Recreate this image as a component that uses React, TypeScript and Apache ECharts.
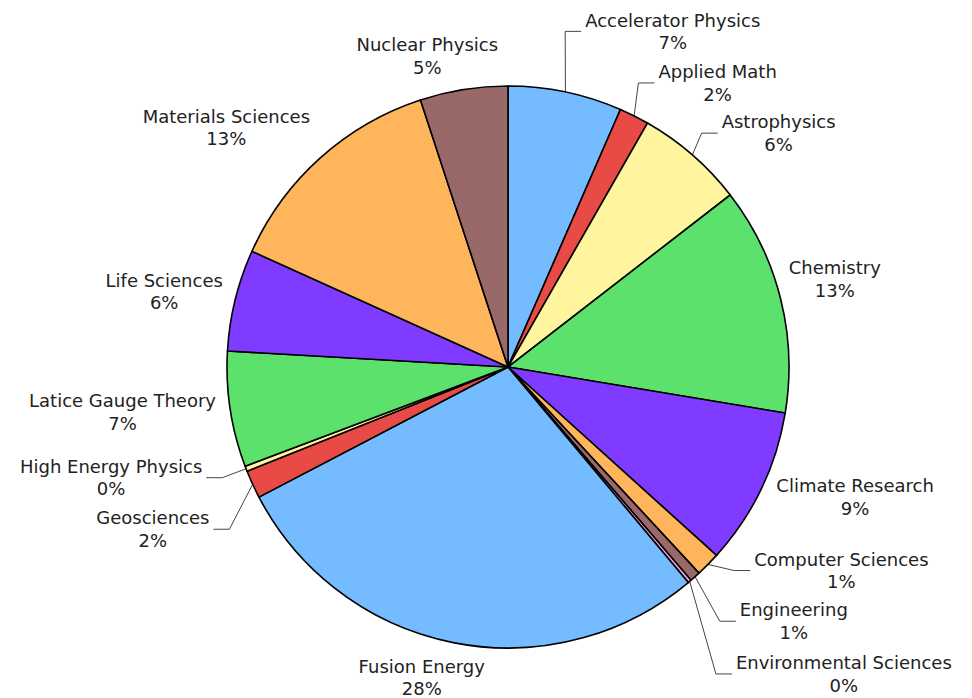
import React, { useEffect, useRef } from "react";
import * as echarts from "echarts";

// Allocation by science domain (share of total usage)
const categories = [
  "Accelerator Physics",
  "Applied Math",
  "Astrophysics",
  "Chemistry",
  "Climate Research",
  "Computer Sciences",
  "Engineering",
  "Environmental Sciences",
  "Fusion Energy",
  "Geosciences",
  "High Energy Physics",
  "Latice Gauge Theory",
  "Life Sciences",
  "Materials Sciences",
  "Nuclear Physics",
];
const shares = [6.5, 1.7, 6.2, 13.0, 9.0, 1.4, 0.6, 0.2, 28.2, 1.6, 0.3, 6.6, 5.8, 13.1, 5.0];

// Slice colours cycle through eight entries
const palette = ["#75BBFF", "#E84A45", "#FFF59F", "#5CE26C", "#7F3BFF", "#FFB55B", "#996969", "#F2A3D9"];

// Labels that are pushed away from their slice and get a leader line
const leaderLabels = new Set([
  "Accelerator Physics",
  "Applied Math",
  "Astrophysics",
  "Computer Sciences",
  "Engineering",
  "Environmental Sciences",
  "Geosciences",
  "High Energy Physics",
]);

// Extra label displacement (px) on top of the default outside placement
const labelShift: Record<string, [number, number]> = {
  "Accelerator Physics": [8.5, -39],
  "Applied Math": [13, -15],
  Astrophysics: [18, -9],
  Chemistry: [-3, -18],
  "Climate Research": [4, 3.5],
  "Computer Sciences": [35, -5],
  Engineering: [33.5, 32],
  "Environmental Sciences": [35, 79.5],
  "Fusion Energy": [43, 13.5],
  Geosciences: [-32, 41],
  "High Energy Physics": [-32.5, 6],
  "Latice Gauge Theory": [-3, 2],
  "Life Sciences": [-1, -7],
  "Materials Sciences": [1, -18],
  "Nuclear Physics": [45.6, -11.6],
};

const CENTER: [number, number] = [508, 367];
const RADIUS = 281;

export default function App() {
  const ref = useRef<HTMLDivElement>(null);

  useEffect(() => {
    if (!ref.current) return;
    const chart = echarts.init(ref.current, undefined, { renderer: "svg" });

    const total = shares.reduce((a, b) => a + b, 0);
    const midAngles: number[] = [];
    let acc = 0;
    shares.forEach((v) => {
      midAngles.push(((acc + v / 2) / total) * Math.PI * 2);
      acc += v;
    });

    const labelLayout = (p: any) => {
      const i = p.dataIndex;
      const a = midAngles[i];
      const s = Math.sin(a);
      const c = Math.cos(a);
      const ex = CENTER[0] + RADIUS * s;
      const ey = CENTER[1] - RADIUS * c;
      const w = p.labelRect.width;
      const h = p.labelRect.height;
      const sx = s;
      const sy = -c;
      let x = ex + Math.sign(sx) * (w / 2 + h / 4);
      let y = ey + (Math.sign(sy) * (h / 2)) / (1 + (sx * sx) / (sy * sy));
      const shift = labelShift[categories[i]] || [0, 0];
      x += shift[0];
      y += shift[1];
      const out: any = { x, y, align: "center", verticalAlign: "middle" };
      if (leaderLabels.has(categories[i])) {
        const side = sx >= 0 ? 1 : -1;
        const edgeX = x - (side * w) / 2;
        out.labelLinePoints = [
          [ex, ey],
          [edgeX - side * 20, y],
          [edgeX - side * 4, y],
        ];
      }
      return out;
    };

    chart.setOption({
      animation: false,
      backgroundColor: "#ffffff",
      series: [
        {
          type: "pie",
          center: CENTER,
          radius: RADIUS,
          startAngle: 90,
          clockwise: true,
          avoidLabelOverlap: false,
          emphasis: { disabled: true },
          itemStyle: { borderColor: "#000000", borderWidth: 1.6 },
          label: {
            show: true,
            position: "outside",
            formatter: (p: any) => `${p.name}\n${Math.round((p.value / total) * 100)}%`,
            color: "#222222",
            fontFamily: "DejaVu Sans",
            fontSize: 18,
            lineHeight: 22.5,
          },
          labelLine: {
            show: false,
            length: 10,
            length2: 10,
            lineStyle: { color: "#444444", width: 1 },
          },
          labelLayout,
          data: categories.map((name, i) => ({
            name,
            value: shares[i],
            itemStyle: { color: palette[i % palette.length] },
            labelLine: { show: leaderLabels.has(name) },
          })),
        },
      ],
    });

    return () => chart.dispose();
  }, []);

  return (
    <div
      ref={ref}
      style={{ position: "fixed", left: 0, top: 0, width: "100vw", height: "100vh" }}
    />
  );
}
